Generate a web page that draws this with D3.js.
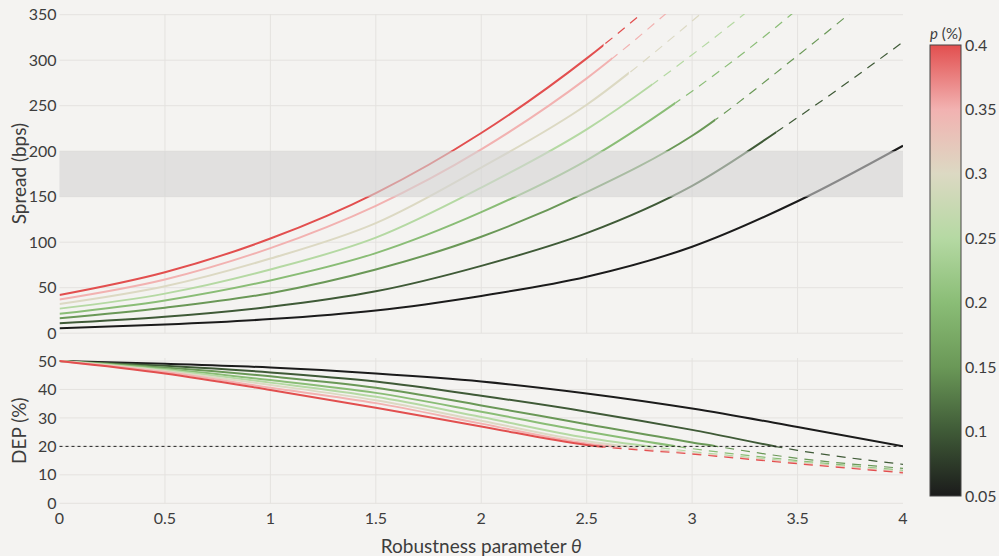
<!DOCTYPE html>
<html>
<head>
<meta charset="utf-8">
<script src="https://cdnjs.cloudflare.com/ajax/libs/d3/7.8.5/d3.min.js"></script>
<style>
    body { margin: 0; background: #f4f3f1; }
    svg { display: block; font-family: Lato, "Open Sans", sans-serif; }
</style>
</head>
<body>
<svg id="chart" width="999" height="556"></svg>
<script>
// chart data
var thetaValues = [0, 0.5, 1, 1.5, 2, 2.5, 3, 3.5, 4];
var pValues = [0.05, 0.1, 0.15, 0.2, 0.25, 0.3, 0.35, 0.4];

// spread (bps) per p, at thetaValues
var spreadP005 = [5.4, 9.5, 15.5, 25, 41, 62, 95, 145, 206];
var spreadP010 = [10.9, 18, 29, 46, 74, 110, 162, 237, 320];
var spreadP015 = [16.4, 28, 44, 70, 106, 155, 217, 305, 400];
var spreadP020 = [21.4, 36, 58, 88, 133, 190, 266, 356, 460];
var spreadP025 = [27, 43.5, 70, 105, 160, 224, 306, 400, 510];
var spreadP030 = [32, 51.5, 82, 121, 182, 251, 343, 445, 560];
var spreadP035 = [37, 59, 93.5, 140, 202, 280, 376, 480, 600];
var spreadP040 = [42, 67, 104, 154, 220, 302, 400, 510, 640];

// DEP (%) per p, at thetaValues
var depP005 = [50, 49.0, 47.7, 45.6, 42.8, 38.6, 33.3, 26.8, 20.0];
var depP010 = [50, 48.3, 46.0, 42.8, 37.8, 32.2, 25.8, 18.6, 13.7];
var depP015 = [50, 47.7, 44.6, 40.6, 34.4, 27.8, 21.4, 15.8, 12.3];
var depP020 = [50, 47.2, 43.3, 38.8, 32.2, 25.2, 19.2, 15.0, 11.6];
var depP025 = [50, 46.8, 42.4, 37.4, 30.3, 23.0, 18.2, 14.6, 11.3];
var depP030 = [50, 46.5, 41.6, 36.2, 29.0, 21.8, 17.7, 14.3, 11.1];
var depP035 = [50, 46.1, 40.6, 35.2, 28.0, 21.0, 17.5, 14.1, 10.9];
var depP040 = [50, 45.6, 39.8, 33.6, 27.0, 20.5, 17.3, 13.9, 10.7];

// theta where DEP hits the threshold: solid before, dashed after
var cutoffTheta = [4.0, 3.40, 3.11, 2.92, 2.81, 2.70, 2.62, 2.58];

var spreadBand = [150, 200];
var depThreshold = 20;

var xTicks = [0, 0.5, 1, 1.5, 2, 2.5, 3, 3.5, 4];
var spreadTicks = [0, 50, 100, 150, 200, 250, 300, 350];
var depTicks = [0, 10, 20, 30, 40, 50];
var colorbarTicks = [0.05, 0.1, 0.15, 0.2, 0.25, 0.3, 0.35, 0.4];
var colorStops = ["#1b1b1b", "#3f5a37", "#6a9857", "#8abd76", "#b5d9a3", "#dcd9c3", "#f2b2b1", "#e24f4f"];

/**
  * Draw both panels and the colour bar.
  */
function drawChart() {

    'use strict';
    /*global d3*/

    var svg = d3.select("#chart"),
        defs = svg.append("defs"),
        spreadSeries = [spreadP005, spreadP010, spreadP015, spreadP020, spreadP025, spreadP030, spreadP035, spreadP040],
        depSeries = [depP005, depP010, depP015, depP020, depP025, depP030, depP035, depP040],
        x = d3.scaleLinear().domain([0, 4]).range([59.5, 903]),
        ySpread = d3.scaleLinear().domain([0, 350]).range([333.2, 14.7]),
        yDep = d3.scaleLinear().domain([0, 50]).range([503.3, 361]),
        color = d3.scaleLinear().domain(colorbarTicks).range(colorStops),
        topArea = {top: 14, bottom: 333.2},
        bottomArea = {top: 358, bottom: 503.3},
        textColor = "#3d3d3d",
        gridColor = "#e4e2df";

    //
    // clip paths: one per panel, and a solid/dashed split per series
    //
    function addClip(id, x0, y0, x1, y1) {
        defs.append("clipPath").attr("id", id)
            .append("rect")
            .attr("x", x0).attr("y", y0)
            .attr("width", Math.max(0, x1 - x0)).attr("height", y1 - y0);
    }
    addClip("clip-top", x(0), topArea.top, x(4), topArea.bottom + 3);
    addClip("clip-bottom", x(0), bottomArea.top, x(4), bottomArea.bottom);
    cutoffTheta.forEach(function (c, i) {
        addClip("solid-" + i, 0, 0, x(c), 556);
        addClip("dash-" + i, x(c), 0, 999, 556);
    });

    /**
      * Gridlines and tick labels for one panel.
      */
    function drawGrid(yScale, ticks, area) {
        var g = svg.append("g");
        g.selectAll("line.h").data(ticks).enter().append("line")
            .attr("x1", x(0)).attr("x2", x(4))
            .attr("y1", function (d) { return yScale(d); })
            .attr("y2", function (d) { return yScale(d); })
            .attr("stroke", gridColor).attr("stroke-width", 1);
        g.selectAll("line.v").data(xTicks.slice(1, -1)).enter().append("line")
            .attr("x1", function (d) { return x(d); })
            .attr("x2", function (d) { return x(d); })
            .attr("y1", area.top).attr("y2", area.bottom)
            .attr("stroke", gridColor).attr("stroke-width", 1);
        g.selectAll("text").data(ticks).enter().append("text")
            .attr("x", x(0) - 3)
            .attr("y", function (d) { return yScale(d); })
            .attr("dy", "0.35em")
            .attr("text-anchor", "end")
            .attr("font-size", 16)
            .attr("fill", textColor)
            .text(function (d) { return d; });
    }

    /**
      * Lines for one panel: solid up to the cutoff, dashed after it.
      */
    function drawLines(yScale, series, clipId) {
        var g = svg.append("g").attr("clip-path", "url(#" + clipId + ")"),
            line = d3.line()
                .x(function (d, i) { return x(thetaValues[i]); })
                .y(function (d) { return yScale(d); })
                .curve(d3.curveMonotoneX);
        series.forEach(function (values, i) {
            g.append("path")
                .attr("d", line(values))
                .attr("clip-path", "url(#solid-" + i + ")")
                .attr("fill", "none")
                .attr("stroke", color(pValues[i]))
                .attr("stroke-width", 2);
            g.append("path")
                .attr("d", line(values))
                .attr("clip-path", "url(#dash-" + i + ")")
                .attr("fill", "none")
                .attr("stroke", color(pValues[i]))
                .attr("stroke-width", 1.2)
                .attr("stroke-dasharray", "9,7");
        });
    }

    drawGrid(ySpread, spreadTicks, topArea);
    drawGrid(yDep, depTicks, bottomArea);
    drawLines(ySpread, spreadSeries, "clip-top");
    drawLines(yDep, depSeries, "clip-bottom");

    // shaded spread band, laid over the lines
    svg.append("rect")
        .attr("x", x(0)).attr("width", x(4) - x(0))
        .attr("y", ySpread(spreadBand[1]))
        .attr("height", ySpread(spreadBand[0]) - ySpread(spreadBand[1]))
        .attr("fill", "#d4d4d4").attr("opacity", 0.6);

    // DEP threshold
    svg.append("line")
        .attr("x1", x(0)).attr("x2", x(4))
        .attr("y1", yDep(depThreshold)).attr("y2", yDep(depThreshold))
        .attr("stroke", "#222").attr("stroke-width", 1)
        .attr("stroke-dasharray", "3,3");

    //
    // x tick labels and axis titles
    //
    svg.append("g").selectAll("text").data(xTicks).enter().append("text")
        .attr("x", function (d) { return x(d); })
        .attr("y", 518)
        .attr("dy", "0.35em")
        .attr("text-anchor", "middle")
        .attr("font-size", 16)
        .attr("fill", textColor)
        .text(function (d) { return d; });

    var xTitle = svg.append("text")
        .attr("x", (x(0) + x(4)) / 2).attr("y", 546)
        .attr("dy", "0.35em")
        .attr("text-anchor", "middle")
        .attr("font-size", 19)
        .attr("fill", textColor)
        .text("Robustness parameter ");
    xTitle.append("tspan").attr("font-style", "italic").text("θ");

    svg.append("text")
        .attr("transform", "translate(19," + ((topArea.top + topArea.bottom) / 2) + ") rotate(-90)")
        .attr("dy", "0.35em")
        .attr("text-anchor", "middle")
        .attr("font-size", 19)
        .attr("fill", textColor)
        .text("Spread (bps)");

    svg.append("text")
        .attr("transform", "translate(19," + ((bottomArea.top + bottomArea.bottom) / 2) + ") rotate(-90)")
        .attr("dy", "0.35em")
        .attr("text-anchor", "middle")
        .attr("font-size", 19)
        .attr("fill", textColor)
        .text("DEP (%)");

    //
    // colour bar
    //
    var cb = d3.scaleLinear().domain([0.05, 0.4]).range([496, 45]),
        grad = defs.append("linearGradient")
            .attr("id", "cbar")
            .attr("x1", 0).attr("y1", 1).attr("x2", 0).attr("y2", 0);
    colorbarTicks.forEach(function (p, i) {
        grad.append("stop")
            .attr("offset", (p - 0.05) / 0.35)
            .attr("stop-color", colorStops[i]);
    });
    svg.append("rect")
        .attr("x", 930).attr("y", cb(0.4))
        .attr("width", 31).attr("height", cb(0.05) - cb(0.4))
        .attr("fill", "url(#cbar)")
        .attr("stroke", "#444").attr("stroke-width", 1);
    svg.append("g").selectAll("text").data(colorbarTicks).enter().append("text")
        .attr("x", 965)
        .attr("y", function (d) { return cb(d); })
        .attr("dy", "0.35em")
        .attr("font-size", 16)
        .attr("fill", textColor)
        .text(function (d) { return d; });

    var cbTitle = svg.append("text")
        .attr("x", 946).attr("y", 34)
        .attr("dy", "0.35em")
        .attr("text-anchor", "middle")
        .attr("font-size", 15)
        .attr("fill", textColor);
    cbTitle.append("tspan").attr("font-style", "italic").text("p");
    cbTitle.append("tspan").text(" (%)");
}

drawChart();
</script>
</body>
</html>
